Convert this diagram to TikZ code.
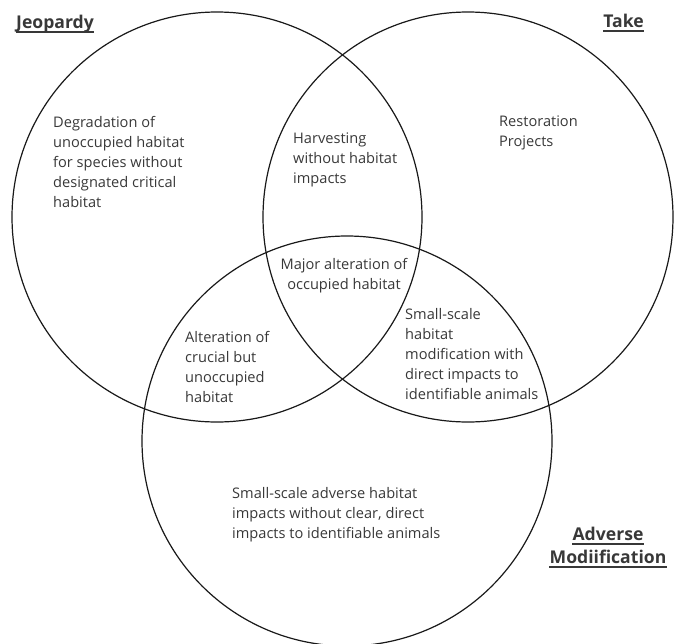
\documentclass[tikz,border=0pt]{standalone}
\usepackage{fontspec}
\setmainfont{Open Sans}

\begin{document}
\begin{tikzpicture}[x=1pt,y=-1pt,
  ring/.style={draw=black!90,line width=1.2pt,circle,minimum size=410pt,inner sep=0pt},
  txt/.style={text=black!78,inner sep=0pt,align=left,anchor=west,font=\fontsize{14.6}{20}\selectfont},
  hd/.style={text=black!78,inner sep=0pt,font=\fontsize{17.6}{22.5}\selectfont\bfseries},
  uline/.style={draw=black!78,line width=1.3pt}]
\useasboundingbox (0,0) rectangle (677,643);
\node[ring] (jeop) at (217,217) {};
\node[ring] (take) at (468,217) {};
\node[ring] (admod) at (347,441) {};
\node[hd,anchor=base west] (jeoplbl) at (16,28) {Jeopardy};
\node[hd,anchor=base east] (takelbl) at (644,27) {Take};
\node[hd,anchor=base] (advlbl) at (608,540) {Adverse\ };
\node[hd,anchor=base] (modlbl) at (608,563) {Modiification};
\foreach \n in {jeoplbl,takelbl,advlbl,modlbl}
  \draw[uline] ([yshift=-4pt]\n.base west) -- ([yshift=-4pt]\n.base east);
\node[txt] (degr) at (53,162) {Degradation of\\unoccupied habitat\\for species without\\designated critical\\habitat};
\node[txt] (harv) at (293,160) {Harvesting\\without habitat\\impacts};
\node[txt] (rest) at (499,133) {Restoration\\Projects};
\node[txt,align=center,anchor=center] (major) at (344,276) {Major alteration of\\occupied habitat};
\node[txt] (crucial) at (185,367) {Alteration of\\crucial but\\unoccupied\\habitat};
\node[txt] (smallmod) at (405,354) {Small-scale\\habitat\\modification with\\direct impacts to\\identifiable animals};
\node[txt] (smalladv) at (232,515) {Small-scale adverse habitat\\impacts without clear, direct\\impacts to identifiable animals};
\end{tikzpicture}
\end{document}
